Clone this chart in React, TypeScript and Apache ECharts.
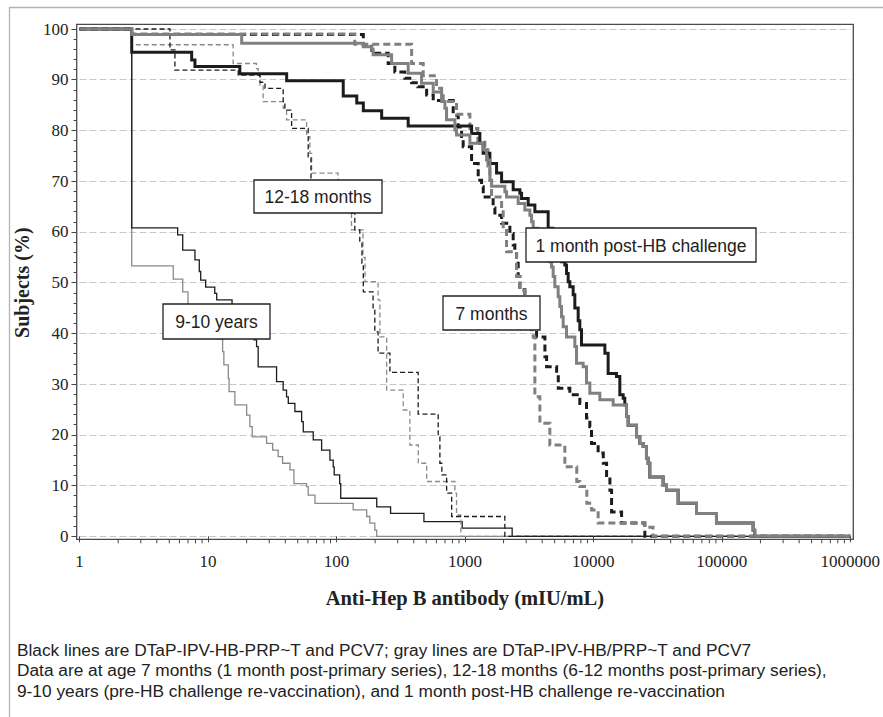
import React, { useEffect, useRef } from 'react';
import * as echarts from 'echarts';

// ---- Data (Anti-Hep B antibody mIU/mL, % subjects >= value) ----
const nineTenYearsGray: [number, number][] = [[1,100],[2.55,53.3],[5.37,50.7],[6.36,48.2],[6.99,45.5],[7.92,43.0],[9.48,40.5],[11.96,38.9],[13.0,36.4],[13.3,33.8],[14.4,31.1],[14.6,28.5],[16.2,25.9],[20.0,23.9],[21.2,21.6],[22.1,19.6],[28.6,18.3],[31.9,17.0],[35.2,15.7],[38.1,14.4],[43.5,13.1],[46.7,10.4],[58.6,9.8],[60.3,8.1],[68.1,6.5],[135,5.2],[172,3.9],[182,2.6],[199,1.2],[206,0],[1000000,0]];

const nineTenYearsBlack: [number, number][] = [[1,100],[2.55,60.8],[5.81,59.4],[6.36,56.4],[7.92,54.5],[8.56,52.2],[8.78,50.5],[9.6,49.1],[11.3,47.9],[11.7,46.6],[15.4,44.5],[17.7,42.5],[20.5,40.5],[22.8,38.7],[23.9,37.4],[24.6,33.4],[34.2,30.5],[38.5,28.8],[40.9,27.5],[42.2,26.2],[47.5,24.6],[53.6,22.6],[55.2,20.6],[66.0,19.0],[76.7,17.0],[89.0,15.0],[94.4,13.7],[96.1,12.1],[106,10.4],[108,7.5],[206,5.8],[264,4.5],[480,2.9],[953,1.6],[2334,0],[1000000,0]];

const twelveEighteenGray: [number, number][] = [[1,100],[2.55,96.9],[15.7,93.2],[23.9,92.2],[24.6,90.9],[25.4,89.0],[26.9,85.7],[38.5,84.4],[40.9,82.1],[58.6,78.8],[62.2,75.5],[64.1,71.6],[103,66.5],[131,60.4],[161,55],[167,50.2],[211,46.6],[218,39.3],[246,28.8],[331,24.9],[373,18.0],[434,14.4],[504,10.8],[836,8.5],[861,4.2],[931,0],[1000000,0]];

const twelveEighteenBlack: [number, number][] = [[1,100],[5.06,95.9],[5.53,91.9],[17.2,90.9],[25.4,89.5],[27.8,88.3],[38.5,85.7],[39.7,84.0],[44.8,80.4],[60.3,74.8],[63.4,70.0],[106,67.0],[131,63.7],[139,60.4],[152,57.8],[158,53.8],[162,48.2],[193,44.6],[199,40.3],[211,36.1],[261,32.3],[433,24.1],[620,19.6],[639,14.4],[662,12.1],[721,8.5],[789,3.9],[2047,0],[1000000,0]];

const sevenMonthsGray: [number, number][] = [[1,100],[2.55,99.0],[139,97.0],[385,93.2],[474,90.8],[602,88.3],[659,87.6],[678,85.7],[861,83.2],[1094,80.4],[1262,78.0],[1431,76.2],[1511,73.0],[1566,70.2],[1613,66.9],[1931,64.7],[1987,60.7],[2110,56.1],[2525,51.2],[2680,48.5],[2931,45.0],[3147,42.0],[3305,40.7],[3404,39.3],[3507,27.5],[3836,22.3],[4586,18.0],[6000,13.7],[7430,10.8],[7851,9.8],[8900,6.5],[9690,5.2],[10900,2.6],[25000,1.8],[29170,0],[1000000,0]];

const sevenMonthsBlack: [number, number][] = [[1,100],[2.55,98.9],[162,96.9],[188,95.2],[253,93.2],[285,91.5],[341,90.3],[385,89.4],[431,88.6],[504,87.0],[567,85.9],[811,83.0],[887,80.7],[943,78.8],[970,76.8],[1128,73.5],[1270,70.2],[1349,68.9],[1390,66.9],[1660,64.7],[1713,63.3],[1931,61.7],[2240,59.7],[2377,57.4],[2449,56.4],[2525,53.8],[2600,51.2],[2680,48.6],[2931,45.0],[3206,42.0],[3614,39.3],[4198,35.4],[4328,33.4],[5180,32.1],[5335,29.2],[6562,27.9],[7851,26.2],[8850,23.3],[9394,21.6],[9680,18.3],[10900,16.4],[11950,14.4],[12680,11.7],[13460,9.1],[13870,4.8],[16590,2.6],[25180,0],[1000000,0]];

const postHBGray: [number, number][] = [[1,100],[2.55,98.9],[18.3,97.2],[162,96.5],[188,96.0],[193,94.9],[269,93.2],[362,91.3],[460,89.3],[567,87.6],[659,85.7],[699,84.4],[720,82.1],[836,80.1],[861,79.1],[1094,77.5],[1387,76.2],[1475,74.2],[1566,70.2],[1613,69.0],[2048,67.9],[2110,66.9],[2600,65.6],[2930,64.3],[3206,63.3],[3305,62.0],[3404,60.7],[3700,58.0],[4048,56.0],[4586,54.1],[4728,53.1],[4866,51.2],[5014,49.2],[5322,47.2],[5484,45.3],[5655,43.3],[5824,41.3],[6186,39.3],[7178,37.4],[7397,34.1],[8329,33.4],[8850,30.2],[9394,28.2],[11240,26.9],[14270,25.9],[18130,23.6],[18660,21.9],[21690,19.6],[23000,18.3],[24420,17.7],[25920,15.4],[26700,14.4],[27520,11.7],[34930,10.1],[37130,9.1],[45710,6.5],[63550,4.5],[90910,2.6],[175300,1.2],[180600,0],[1000000,0]];

const postHBBlackUpper: [number, number][] = [[1,100],[2.55,95.4],[7.47,93.9],[7.92,92.6],[17.7,91.2],[41.0,89.8],[113,86.8],[144,85.4],[162,83.9],[225,82.4],[362,80.9],[1128,79.4],[1308,77.5],[1387,75.5],[1566,73.5],[1765,71.6],[1931,69.9],[2377,68.3],[2680,67.6],[2762,66.6],[3111,65.3],[3507,64.0],[4450,60.7],[4840,58.0],[5295,56.0],[5655,54.1],[6000,53.5],[6186,51.8],[6370,50.2],[6562,49.2],[6966,47.6],[7178,45.0],[7621,42.5],[7851,40.7],[8090,37.7],[12300,36.1],[13040,32.1],[15140,31.5],[16080,27.9],[17070,27.2],[17580,25.9]];
// below ~26% the black post-challenge curve coincides with the gray one
const postHBBlack: [number, number][] = [...postHBBlackUpper, ...postHBGray.filter((p) => p[0] >= 18130)];

const xTickLabels = ['1', '10', '100', '1000', '10000', '100000', '1000000'];
const yTickLabels = ['0', '10', '20', '30', '40', '50', '60', '70', '80', '90', '100'];

const footnotes = [
  'Black lines are DTaP-IPV-HB-PRP~T and PCV7; gray lines are DTaP-IPV-HB/PRP~T and PCV7',
  'Data are at age 7 months (1 month post-primary series), 12-18 months (6-12 months post-primary series),',
  '9-10 years (pre-HB challenge re-vaccination), and 1 month post-HB challenge re-vaccination',
];

const annotations = [
  { text: '12-18 months', x: 254, y: 180, w: 128, h: 33 },
  { text: '1 month post-HB challenge', x: 526, y: 228, w: 230, h: 34 },
  { text: '7 months', x: 443, y: 296, w: 97, h: 34 },
  { text: '9-10 years', x: 163, y: 304, w: 107, h: 35 },
];

const BLACK = '#1c1c1c';
const GRAY = '#808080';
const GRAY_THIN = '#8a8a8a';
const SERIF = '"Liberation Serif", "Times New Roman", serif';
const SANS = '"Liberation Sans", Arial, sans-serif';

function stepLine(name: string, data: [number, number][], color: string, width: number, dash: number[] | null, z: number) {
  return {
    name,
    type: 'line',
    data,
    step: 'end',
    symbol: 'none',
    showSymbol: false,
    clip: false,
    silent: true,
    z,
    lineStyle: { color, width, type: dash ? dash : 'solid', cap: 'butt', join: 'miter' },
  };
}

export default function App() {
  const ref = useRef<HTMLDivElement>(null);
  useEffect(() => {
    if (!ref.current) return;
    const chart = echarts.init(ref.current, undefined, { renderer: 'svg' });

    const minorTicks: number[] = [];
    for (let e = 0; e < 6; e++) {
      for (let m = 2; m <= 9; m++) minorTicks.push(m * Math.pow(10, e));
    }

    const graphics: any[] = [
      // outer figure border
      { type: 'rect', shape: { x: 9.5, y: 7.5, width: 900, height: 800 }, style: { fill: 'none', stroke: '#b4b4b4', lineWidth: 1.3 }, silent: true, z: 0 },
      // plot frame
      { type: 'rect', shape: { x: 76.7, y: 24.3, width: 776.6, height: 515 }, style: { fill: 'none', stroke: '#4a4a4a', lineWidth: 1.3 }, silent: true, z: 50 },
    ];
    annotations.forEach((a) => {
      graphics.push({
        type: 'group',
        z: 100,
        children: [
          { type: 'rect', shape: { x: a.x, y: a.y, width: a.w, height: a.h }, style: { fill: '#fff', stroke: '#222', lineWidth: 1.3 }, z: 100 },
          { type: 'text', x: a.x + a.w / 2, y: a.y + a.h / 2 + 0.5, style: { text: a.text, fill: '#222', font: `17.5px ${SANS}`, align: 'center', verticalAlign: 'middle' }, z: 101 },
        ],
      });
    });
    footnotes.forEach((t, i) => {
      graphics.push({ type: 'text', x: 17, y: 650 + i * 20.4, style: { text: t, fill: '#222', font: `17.3px ${SANS}`, align: 'left', verticalAlign: 'middle' }, z: 10 });
    });

    chart.setOption({
      animation: false,
      backgroundColor: '#fff',
      grid: { left: 79.5, right: 32.5, top: 29, bottom: 180.7, containLabel: false },
      xAxis: {
        type: 'log',
        logBase: 10,
        min: 1,
        max: 1000000,
        offset: 3,
        name: 'Anti-Hep B antibody (mIU/mL)',
        nameLocation: 'middle',
        nameGap: 48,
        nameTextStyle: { fontFamily: SERIF, fontWeight: 'bold', fontSize: 20.5, color: '#222' },
        axisLine: { show: false },
        axisTick: { show: true, length: 6, lineStyle: { color: '#444', width: 1 } },
        axisLabel: {
          margin: 14,
          fontFamily: SERIF,
          fontSize: 17,
          color: '#222',
          formatter: (v: number) => {
            const idx = Math.round(Math.log10(v));
            return xTickLabels[idx] ?? String(Math.round(v));
          },
        },
        splitLine: { show: false },
      },
      yAxis: {
        type: 'value',
        min: 0,
        max: 100,
        interval: 10,
        offset: 3,
        name: 'Subjects (%)',
        nameLocation: 'middle',
        nameGap: 36,
        nameTextStyle: { fontFamily: SERIF, fontWeight: 'bold', fontSize: 20, color: '#222' },
        axisLine: { show: false },
        axisTick: { show: true, length: 5, lineStyle: { color: '#444', width: 1 } },
        minorTick: { show: true, splitNumber: 5, length: 3, lineStyle: { color: '#444', width: 1 } },
        axisLabel: {
          margin: 8,
          fontFamily: SERIF,
          fontSize: 17,
          color: '#222',
          formatter: (v: number) => yTickLabels[Math.round(v / 10)] ?? String(v),
        },
        splitLine: { show: true, lineStyle: { color: '#c8c8c8', width: 1, type: [7, 3] } },
      },
      graphic: graphics,
      series: [
        {
          type: 'custom',
          silent: true,
          clip: false,
          z: 60,
          data: minorTicks.map((v) => [v, 0]),
          renderItem: (params: any, api: any) => {
            const p = api.coord([api.value(0), 0]);
            return {
              type: 'line',
              shape: { x1: p[0], y1: p[1] + 3, x2: p[0], y2: p[1] + 7 },
              style: { stroke: '#444', lineWidth: 1 },
            };
          },
        },
        stepLine('9-10 years, gray', nineTenYearsGray, GRAY_THIN, 1.3, null, 2),
        stepLine('9-10 years, black', nineTenYearsBlack, BLACK, 1.3, null, 3),
        stepLine('12-18 months, gray', twelveEighteenGray, GRAY_THIN, 1.3, [5, 3], 4),
        stepLine('12-18 months, black', twelveEighteenBlack, BLACK, 1.3, [5, 3], 5),
        stepLine('7 months, black', sevenMonthsBlack, BLACK, 3, [7, 4], 6),
        stepLine('7 months, gray', sevenMonthsGray, GRAY, 3, [7, 4], 7),
        stepLine('1 month post-HB challenge, black', postHBBlack, BLACK, 3, null, 8),
        stepLine('1 month post-HB challenge, gray', postHBGray, GRAY, 3, null, 9),
      ],
    });

    return () => chart.dispose();
  }, []);

  return <div ref={ref} style={{ position: 'fixed', left: 0, top: 0, width: 883, height: 717, background: '#fff' }} />;
}
